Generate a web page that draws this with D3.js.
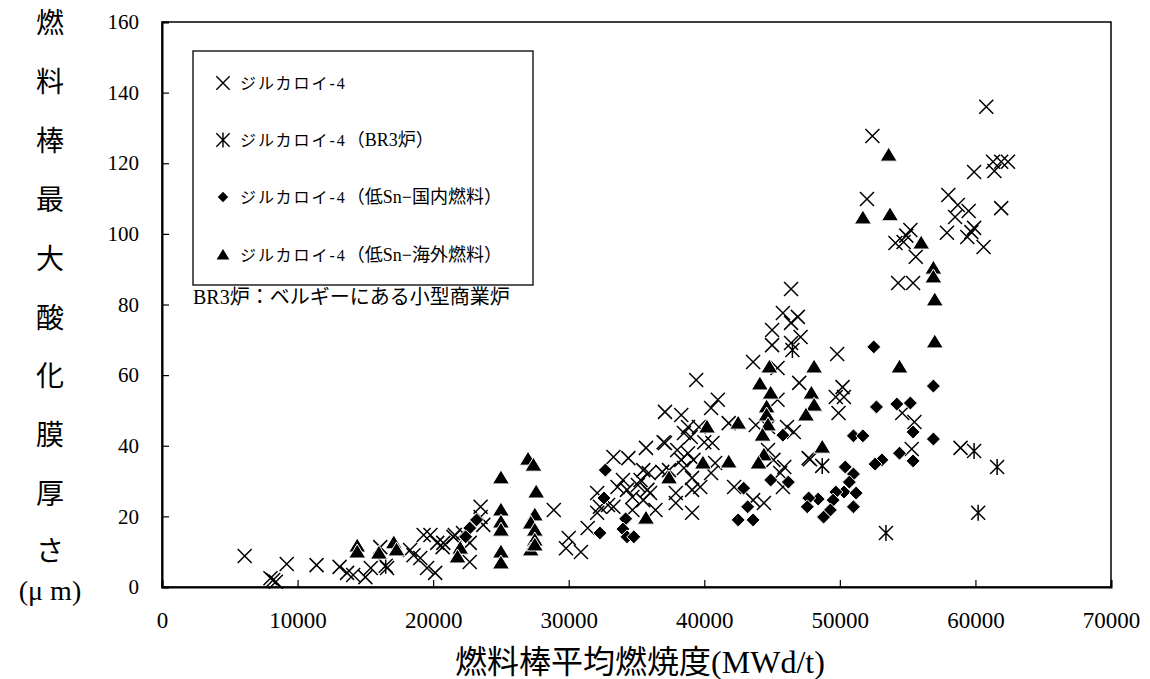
<!DOCTYPE html>
<html>
<head>
<meta charset="utf-8">
<script src="https://cdn.jsdelivr.net/npm/d3@7"></script>
<style>
  body { margin: 0; background: #fff; }
  text { font-family: "Liberation Serif", "Noto Sans CJK JP", serif; fill: #000; }
</style>
</head>
<body>
<svg width="1150" height="679"></svg>
<script>
const svg = d3.select("svg");

// データ: [燃焼度 MWd/t, 酸化膜厚さ μm]
const zr4 = [
  [6100,8.8],[8000,2.5],[8200,2],[8400,1.5],[9200,6.5],[11400,6.2],[13100,5.7],[13650,4],[14100,3.4],
  [15000,2.8],[15400,5.4],[16100,11.3],[16600,5.4],[18300,10.5],[18550,9],[19300,14.7],[19800,14.7],
  [19050,8.2],[19550,5.4],[20150,4],[20300,12.5],[20700,11.3],[21500,14.2],[20750,12.5],[21600,14.7],
  [22200,15.3],[22700,12.5],[22700,7.1],[23500,22.7],[23700,17.6],[23500,19.8],[28900,21.8],[30000,13.9],
  [29800,11],[30900,9.9],[31400,16.7],[32100,21],[32300,22.7],[32100,26.6],[32900,23.2],[33300,36.8],
  [34400,36.5],[35700,39.4],[33600,28.3],[34000,30.3],[34300,27.5],[34700,25.5],[35100,28.9],[35300,30.3],
  [35500,33.1],[35900,32.3],[36000,26.6],[36400,21.8],[34700,21.8],[33300,22.7],[37000,41],[37100,49.6],
  [37400,33.1],[46400,84.4],[45800,77.6],[46900,76.5],[45000,72.8],[46400,74.8],[47100,70.8],[45000,68.5],
  [46400,69.1],[43600,63.7],[45400,62],[47000,57.8],[39400,58.6],[41000,53],[40500,50.7],[38300,48.7],
  [38800,45.3],[38500,43.6],[39000,42.5],[39600,45.3],[40000,41],[40600,40.8],[37100,40.8],[38000,38.8],
  [38800,37.9],[38300,36],[39200,36],[40800,35.1],[38500,33.7],[39100,30.9],[40500,32.3],[36900,32.6],
  [35800,27.5],[35500,24.6],[37900,26.6],[37900,23.8],[39100,27.5],[39700,28.3],[39100,21],[41800,46.4],
  [43800,45.9],[44700,45.3],[45400,53],[46100,45.3],[46600,43.9],[44700,38.8],[45100,36],[45600,32.3],
  [45900,34],[47700,36.5],[44400,23.8],[42200,28.3],[43600,24.6],[45800,28.3],
  [60800,136],[52400,127.7],[52000,109.9],[59900,117.5],[61300,120.4],[61400,117.8],[61900,120.4],
  [62400,120.4],[61900,107.3],[58000,111],[58700,108.2],[59500,106.5],[58500,104.8],[57900,100.3],
  [59400,99.1],[59900,101.7],[59700,100.5],[60600,96.3],[55200,101.1],[54900,99.5],[54100,97.4],
  [54700,97.7],[55600,93.5],[54300,86.1],[55400,86.1],
  [49800,66],[50200,56.6],[49700,53.8],[50300,53.8],[49900,49.3],[54600,49.3],[55500,46.7],[55300,39.1],
  [58900,39.4],[47800,36.2]
];

const zr4Br3 = [
  [16500,6],[46500,67.1],[48700,34.3],[59900,38.5],[61600,34],[60200,21],[53400,15.3]
];

const lowSnDomestic = [
  [52500,68],[56900,56.9],[52700,51],[54200,51.8],[55200,52.1],[55400,43.9],[56900,41.9],[51000,42.8],
  [51700,42.8],[54400,37.9],[55400,35.7],[53100,36],[52600,34.8],[50400,34],[51000,32],[50700,29.7],
  [50300,26.9],[51200,26.6],[49700,26.9],[49500,24.6],[48400,24.9],[47700,25.2],[47600,22.7],[49300,21.8],
  [48800,19.8],[51000,22.7],[45800,43],[44900,30.3],[46200,29.7],[42900,28],[43200,22.7],[42500,19],
  [43600,19],[32700,33.1],[32600,25.2],[34200,19.3],[34000,16.4],[34300,14.2],[34800,14.2],[32300,15.3],
  [23200,19],[22700,16.7],[22400,14.2]
];

const lowSnOverseas = [
  [53600,122.3],[51700,104.5],[53700,105.4],[56000,97.4],[56900,90.3],[56900,87.8],[57000,81.3],[57000,69.4],
  [48100,62.3],[54400,62.3],[47900,54.9],[48100,51.5],[47500,48.7],[48700,39.6],
  [25000,30.9],[25000,21.8],[25000,18.4],[25000,16.1],[25000,9.9],[25000,6.8],[27000,36.2],[27400,34.5],
  [27600,26.9],[27500,20.4],[27200,18.1],[27500,16.1],[27500,13.3],[27200,10.5],[27500,11.9],[22000,11],
  [21800,8.5],[35700,19.5],[14400,11.6],[14400,9.9],[16000,9.6],[17100,12.5],[17300,10.5],
  [42500,46.4],[40200,45.3],[39900,35.1],[37400,30.9],[41800,35.4],[44800,62.3],[44100,57.5],[44900,54.9],
  [44600,51],[44600,48.7],[44700,45.9],[44300,43],[44400,37.4],[44000,35.1]
];

const xTicks = [0, 10000, 20000, 30000, 40000, 50000, 60000, 70000];
const yTicks = [0, 20, 40, 60, 80, 100, 120, 140, 160];
const yTitleChars = ["燃", "料", "棒", "最", "大", "酸", "化", "膜", "厚", "さ"];
const legendNames = [
  ["ジルカロイ-4", ""],
  ["ジルカロイ-4", "（BR3炉）"],
  ["ジルカロイ-4", "（低Sn−国内燃料）"],
  ["ジルカロイ-4", "（低Sn−海外燃料）"]
];

const plotLeft = 162, plotRight = 1111, plotTop = 22, plotBottom = 587;

const x = d3.scaleLinear().domain([0, 70000]).range([plotLeft, plotRight]);
const y = d3.scaleLinear().domain([0, 160]).range([plotBottom, plotTop]);

// マーカー形状
const h = 7;
const markers = {
  times: `M${-h},${-h}L${h},${h}M${-h},${h}L${h},${-h}`,
  aster: `M${-h},${-h}L${h},${h}M${-h},${h}L${h},${-h}M0,${-h - 1}L0,${h + 1}`,
  diamond: "M0,-7L7,0L0,7L-7,0Z",
  triangle: "M0,-8L8.5,6L-8.5,6Z"
};
const styles = [
  { d: markers.times, fill: "none", stroke: "#000", sw: 1.5 },
  { d: markers.aster, fill: "none", stroke: "#000", sw: 1.5 },
  { d: markers.diamond, fill: "#000", stroke: "#fff", sw: 1 },
  { d: markers.triangle, fill: "#000", stroke: "#fff", sw: 1 }
];
const seriesData = [zr4, zr4Br3, lowSnDomestic, lowSnOverseas];

// 枠
svg.append("rect")
  .attr("x", plotLeft).attr("y", plotTop)
  .attr("width", plotRight - plotLeft).attr("height", plotBottom - plotTop)
  .attr("fill", "none").attr("stroke", "#000").attr("stroke-width", 1.5);

// 軸
const yAxis = svg.append("g")
  .attr("transform", `translate(${plotLeft},0)`)
  .call(d3.axisLeft(y).tickValues(yTicks).tickSize(-7).tickPadding(23).tickFormat(d3.format("d")));
const xAxis = svg.append("g")
  .attr("transform", `translate(0,${plotBottom})`)
  .call(d3.axisBottom(x).tickValues(xTicks).tickSize(-7).tickPadding(25).tickFormat(d3.format("d")));

[xAxis, yAxis].forEach(g => {
  g.select(".domain").attr("stroke", "#000").attr("stroke-width", 2);
  g.selectAll(".tick line").attr("stroke", "#000").attr("stroke-width", 1.2);
  g.selectAll(".tick text").attr("font-family", "Liberation Serif, serif").attr("fill", "#000");
});
yAxis.selectAll(".tick text").attr("font-size", 21);
xAxis.selectAll(".tick text").attr("font-size", 23);

// データ点
seriesData.forEach((data, i) => {
  const s = styles[i];
  svg.append("g").selectAll("path")
    .data(data)
    .join("path")
    .attr("transform", d => `translate(${x(d[0])},${y(d[1])})`)
    .attr("d", s.d)
    .attr("fill", s.fill)
    .attr("stroke", s.stroke)
    .attr("stroke-width", s.sw);
});

// 凡例
svg.append("rect")
  .attr("x", 193).attr("y", 51).attr("width", 340).attr("height", 234)
  .attr("fill", "#fff").attr("stroke", "#000").attr("stroke-width", 1.3);

const legendY = [83, 140, 197, 255];
legendNames.forEach((name, i) => {
  const s = styles[i];
  svg.append("path")
    .attr("transform", `translate(223,${legendY[i]}) scale(${i >= 2 ? 0.75 : 0.95})`)
    .attr("d", s.d)
    .attr("fill", s.fill)
    .attr("stroke", s.fill === "none" ? "#000" : "none")
    .attr("stroke-width", s.sw);
  const t = svg.append("text")
    .attr("x", 240).attr("y", legendY[i]).attr("dy", "0.35em");
  t.append("tspan").attr("font-size", 16).attr("letter-spacing", 2).text(name[0]);
  if (name[1]) t.append("tspan").attr("font-size", 18).attr("dx", 0).text(name[1]);
});

svg.append("text")
  .attr("x", 193).attr("y", 297).attr("dy", "0.35em")
  .attr("font-size", 20)
  .text("BR3炉：ベルギーにある小型商業炉");

// 軸タイトル
svg.append("text")
  .attr("x", 640).attr("y", 662).attr("dy", "0.35em")
  .attr("text-anchor", "middle")
  .attr("font-size", 32)
  .text("燃料棒平均燃焼度(MWd/t)");

const yTitleY = [23, 82, 141, 200, 259, 318, 376, 435, 494, 551];
yTitleChars.forEach((c, i) => {
  svg.append("text")
    .attr("x", 50).attr("y", yTitleY[i]).attr("dy", "0.35em")
    .attr("text-anchor", "middle")
    .attr("font-size", 28)
    .text(c);
});
svg.append("text")
  .attr("x", 50).attr("y", 590).attr("dy", "0.35em")
  .attr("text-anchor", "middle")
  .attr("font-size", 28)
  .text("(μ m)");
</script>
</body>
</html>
